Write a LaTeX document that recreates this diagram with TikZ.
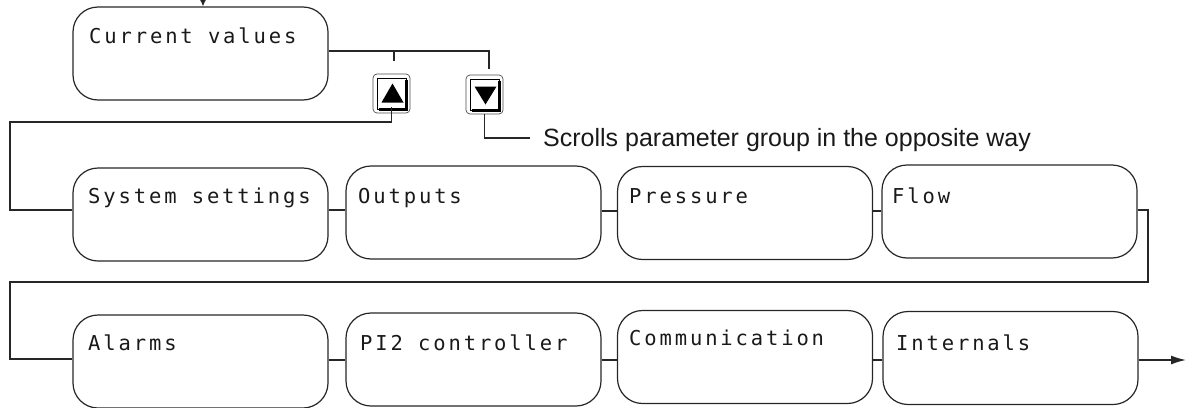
\documentclass[tikz,border=0pt]{standalone}
\usepackage{fontspec}
\setmainfont{Liberation Sans}
\newfontfamily\monof[LetterSpace=14]{DejaVu Sans Mono}
\usetikzlibrary{arrows.meta}
\begin{document}
\begin{tikzpicture}[x=1pt,y=-1pt,
  panel/.style={draw=black!85, line width=1.2pt, rounded corners=25pt,
    minimum width=255pt, minimum height=93pt, inner sep=0pt},
  lbl/.style={anchor=base west, inner sep=0pt, text=black!90,
    font=\monof\fontsize{20.5}{22}\selectfont},
  conn/.style={line width=1.4pt, draw=black!85},
  keycap/.style={draw=black!70, line width=0.7pt, rounded corners=4pt,
    minimum width=37pt, minimum height=39pt, inner sep=0pt}]
\useasboundingbox (0,0) rectangle (1188,407);

% main panels
\node[panel] (cv) at (200.5,53.5) {};
\node[panel] (ss) at (200.5,214.5) {};
\node[panel] (out) at (473.5,212.5) {};
\node[panel] (pre) at (745,213) {};
\node[panel] (flow) at (1009.5,211.5) {};
\node[panel] (alarms) at (200.5,361.5) {};
\node[panel] (pi2) at (473.5,359.5) {};
\node[panel] (comm) at (745,357) {};
\node[panel] (int) at (1010.5,358) {};

% labels
\node[lbl] (tcv) at (89,43) {Current values};
\node[lbl] (tss) at (88,203) {System settings};
\node[lbl] (tout) at (358,203) {Outputs};
\node[lbl] (tpre) at (629,203) {Pressure};
\node[lbl] (tflow) at (892,203) {Flow};
\node[lbl] (tal) at (88,350) {Alarms};
\node[lbl] (tpi) at (360,350) {PI2 controller};
\node[lbl] (tcom) at (629,345) {Communication};
\node[lbl] (tint) at (896,350) {Internals};

% keys
\node[keycap] (up) at (391.5,93.5) {};
\node[keycap] (down) at (484.5,94.5) {};
\foreach \k in {up,down}{
  \begin{scope}[shift={(\k.center)}]
    \draw[black, line width=1.2pt] (-14,-15) rectangle (15,16);
    \draw[black, line width=2.2pt] (15,-14) -- (15,16) -- (-13,16);
  \end{scope}
}
\fill[black] ([shift={(1,-10)}]up.center) -- ([shift={(12,9)}]up.center) -- ([shift={(-10,9)}]up.center) -- cycle;
\fill[black] ([shift={(-10,-8)}]down.center) -- ([shift={(12,-8)}]down.center) -- ([shift={(1,10)}]down.center) -- cycle;

% note
\node[anchor=base west, inner sep=0pt, text=black!90, font=\fontsize{25}{30}\selectfont] (note) at (543,146) {Scrolls parameter group in the opposite way};

% coordinates
\coordinate (topin) at (203,-6);
\coordinate (j1) at (489,51);
\coordinate (tick) at (394,51);
\coordinate (tickend) at (394,61);
\coordinate (downend) at (489,69);
\coordinate (leftA) at (10,122);
\coordinate (noteend) at (530,138);
\coordinate (rightB) at (1148,210);
\coordinate (midrow) at (1148,282);
\coordinate (leftC) at (10,282);
\coordinate (arrowend) at (1186,360);

% connectors
\draw[conn, -{Latex[length=8pt,width=8pt]}] (topin) -- (cv.north -| topin);
\draw[conn] (cv.east |- j1) -- (j1) -- (downend);
\draw[conn] (tick) -- (tickend);
\draw[conn] ([yshift=6pt]up.south) |- (leftA) |- (ss.west |- 0,210);
\draw[conn] (down.south) |- (noteend);
\draw[conn] (ss.east |- 0,210) -- (out.west |- 0,210);
\draw[conn] (out.east |- 0,211) -- (pre.west |- 0,211);
\draw[conn] (pre.east |- 0,211) -- (flow.west |- 0,211);
\draw[conn] (flow.east |- rightB) -- (rightB) -- (midrow) -- (leftC) |- (alarms.west |- 0,359);
\draw[conn] (alarms.east |- 0,360) -- (pi2.west |- 0,360);
\draw[conn] (pi2.east |- 0,360) -- (comm.west |- 0,360);
\draw[conn] (comm.east |- 0,360) -- (int.west |- 0,360);
\draw[conn, -{Latex[length=15pt,width=9pt]}] (int.east |- arrowend) -- (arrowend);
\end{tikzpicture}
\end{document}
